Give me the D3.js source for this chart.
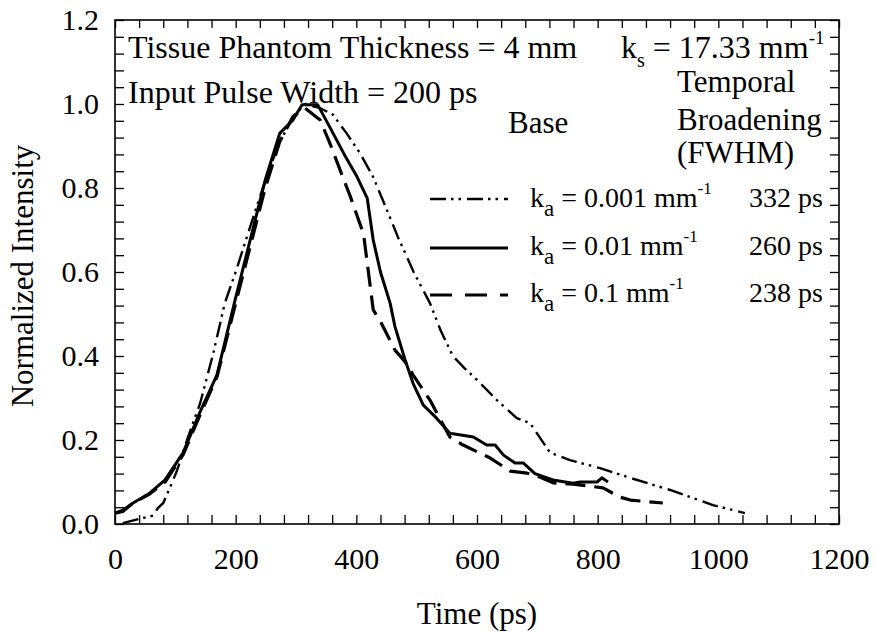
<!DOCTYPE html>
<html><head><meta charset="utf-8">
<script src="https://cdn.jsdelivr.net/npm/d3@7"></script>
<style>body{margin:0;background:#fff}svg{display:block}text{font-family:"Liberation Serif","Times New Roman",serif;fill:#000}</style>
</head><body>
<svg id="c" width="875" height="635"></svg>
<script>
// ---- data ----
const xTickLabels = [0, 200, 400, 600, 800, 1000, 1200];
const yTickLabels = [0, 0.2, 0.4, 0.6, 0.8, 1.0, 1.2];

// k_a = 0.001 mm^-1 (dash-dot-dot)
const tA = [13,40,63,71,80,92,103,121,141,163,182,200,220,245,270,295,315,340,361,384,406,428,450,469,495,522,540,560,580,600,633,666,688,721,754,804,849,920,991,1044];
const vA = [0.002,0.012,0.02,0.038,0.05,0.09,0.128,0.207,0.287,0.407,0.526,0.6,0.69,0.80,0.90,0.97,1.0,0.99,0.975,0.93,0.883,0.826,0.75,0.683,0.60,0.526,0.46,0.40,0.37,0.343,0.295,0.252,0.24,0.17,0.152,0.133,0.112,0.081,0.045,0.026];

// k_a = 0.01 mm^-1 (solid)
const tB = [0,13,30,58,83,113,141,169,199,224,249,273,295,310,336,356,380,400,418,428,440,456,464,481,494,511,533,555,594,616,630,644,663,677,696,726,759,771,799,807,817];
const vB = [0.026,0.033,0.05,0.074,0.105,0.17,0.267,0.355,0.533,0.676,0.819,0.93,0.962,0.998,0.998,0.945,0.88,0.83,0.776,0.676,0.6,0.526,0.47,0.39,0.335,0.283,0.252,0.216,0.207,0.188,0.188,0.164,0.145,0.145,0.12,0.105,0.097,0.1,0.1,0.11,0.1];

// k_a = 0.1 mm^-1 (dashed)
const tC = [0,13,30,58,83,113,141,169,199,224,249,273,295,315,340,356,373,390,412,428,439,464,481,494,522,555,577,622,655,683,704,726,759,809,837,854,908];
const vC = [0.026,0.03,0.05,0.072,0.1,0.165,0.26,0.35,0.52,0.66,0.80,0.91,0.97,0.99,0.962,0.907,0.843,0.78,0.69,0.51,0.485,0.414,0.386,0.355,0.295,0.207,0.188,0.157,0.126,0.121,0.112,0.098,0.095,0.086,0.064,0.057,0.05];

const seriesNames = ["0.001", "0.01", "0.1"];
const fwhm = ["332 ps", "260 ps", "238 ps"];

// ---- layout ----
const L = 115, R = 839, T = 20, B = 524;
const svg = d3.select("#c");
const x = d3.scaleLinear().domain([0, 1200]).range([L, R]);
const y = d3.scaleLinear().domain([0, 1.2]).range([B, T]);

const minorX = d3.range(0, 1201, 40);
const minorY = d3.range(0, 31).map(i => i * 0.04);

function strip(g){ g.select(".domain").remove(); g.attr("font-family", null); }
svg.append("g").attr("transform", `translate(0,${B})`)
  .call(d3.axisBottom(x).tickValues(minorX).tickSize(-9).tickFormat("")).call(strip)
  .selectAll("line").attr("stroke", "#000").attr("stroke-width", 1.3);
svg.append("g").attr("transform", `translate(0,${T})`)
  .call(d3.axisTop(x).tickValues(minorX).tickSize(-8).tickFormat("")).call(strip)
  .selectAll("line").attr("stroke", "#000").attr("stroke-width", 1.3);
svg.append("g").attr("transform", `translate(${L},0)`)
  .call(d3.axisLeft(y).tickValues(minorY).tickSize(-9).tickFormat("")).call(strip)
  .selectAll("line").attr("stroke", "#000").attr("stroke-width", 1.3);
svg.append("g").attr("transform", `translate(${R},0)`)
  .call(d3.axisRight(y).tickValues(minorY).tickSize(-9).tickFormat("")).call(strip)
  .selectAll("line").attr("stroke", "#000").attr("stroke-width", 1.3);

// tick labels
const gx = svg.append("g").attr("transform", `translate(0,${B})`)
  .call(d3.axisBottom(x).tickValues(xTickLabels).tickSize(0).tickPadding(24).tickFormat(d3.format("d")));
gx.call(strip);
gx.selectAll("text").attr("font-size", 30);
const gy = svg.append("g").attr("transform", `translate(${L},0)`)
  .call(d3.axisLeft(y).tickValues(yTickLabels).tickSize(0).tickPadding(16).tickFormat(d3.format(".1f")));
gy.call(strip);
gy.selectAll("text").attr("font-size", 30);

// frame
svg.append("rect").attr("x", L).attr("y", T).attr("width", R - L).attr("height", B - T)
  .attr("fill", "none").attr("stroke", "#000").attr("stroke-width", 1.6);

// axis titles
svg.append("text").attr("x", (L + R) / 2).attr("y", 624).attr("text-anchor", "middle")
  .attr("font-size", 31).text("Time (ps)");
svg.append("text").attr("transform", `translate(33,${(T + B) / 2 + 4}) rotate(-90)`).attr("text-anchor", "middle")
  .attr("font-size", 31).text("Normalized Intensity");

// curves
const styles = [
  {dash: "16,5,2.5,5,2.5,6", w: 2.4},
  {dash: null, w: 3},
  {dash: "20,9", w: 3.2}
];
const data = [d3.zip(tA, vA), d3.zip(tB, vB), d3.zip(tC, vC)];
const line = d3.line().x(d => x(d[0])).y(d => y(d[1]));
data.forEach((d, i) => {
  svg.append("path").datum(d).attr("d", line).attr("fill", "none")
    .attr("stroke", "#000").attr("stroke-width", styles[i].w)
    .attr("stroke-linejoin", "round")
    .attr("stroke-dasharray", styles[i].dash);
});

// annotations
svg.append("text").attr("x", 128).attr("y", 58).attr("font-size", 32).text("Tissue Phantom Thickness = 4 mm");
svg.append("text").attr("x", 128).attr("y", 103).attr("font-size", 32).text("Input Pulse Width = 200 ps");
const ks = svg.append("text").attr("x", 621).attr("y", 58).attr("font-size", 32);
ks.append("tspan").text("k");
ks.append("tspan").attr("font-size", 20).attr("dy", 9).text("s");
ks.append("tspan").attr("dy", -9).text(" = 17.33 mm");
ks.append("tspan").attr("font-size", 19).attr("dy", -14).text("-1");

svg.append("text").attr("x", 677).attr("y", 92).attr("font-size", 31).text("Temporal");
svg.append("text").attr("x", 677).attr("y", 130).attr("font-size", 31).text("Broadening");
svg.append("text").attr("x", 677).attr("y", 163).attr("font-size", 31).text("(FWHM)");
svg.append("text").attr("x", 508).attr("y", 133).attr("font-size", 31).text("Base");

// legend
const legY = [199, 248, 295];
const legBase = [207, 255, 302];
seriesNames.forEach((nm, i) => {
  svg.append("line").attr("x1", 430).attr("x2", 508).attr("y1", legY[i]).attr("y2", legY[i])
    .attr("stroke", "#000").attr("stroke-width", styles[i].w)
    .attr("stroke-dasharray", i === 2 ? "22,13" : styles[i].dash);
  const t = svg.append("text").attr("x", 530).attr("y", legBase[i]).attr("font-size", 28);
  t.append("tspan").text("k");
  t.append("tspan").attr("font-size", 23).attr("dy", 9).text("a");
  t.append("tspan").attr("dy", -9).text(" = " + nm + " mm");
  t.append("tspan").attr("font-size", 17).attr("dy", -13).text("-1");
  svg.append("text").attr("x", 823).attr("y", legBase[i]).attr("text-anchor", "end")
    .attr("font-size", 28).text(fwhm[i]);
});
</script>
</body></html>
